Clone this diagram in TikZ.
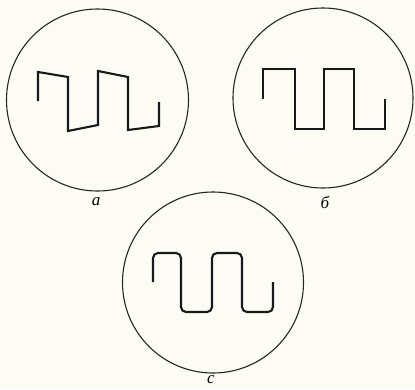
\documentclass[tikz,border=0pt]{standalone}
\usepackage{fontspec}
\newfontfamily\lblfont{Liberation Serif}
\begin{document}
\begin{tikzpicture}[x=1pt,y=-1pt,
  scope/.style={draw=black!85, line width=1.1pt},
  wave/.style={draw=black!90, line width=2.1pt, line join=miter},
  lbl/.style={font=\lblfont\itshape\fontsize{17}{17}\selectfont, inner sep=0pt}]
\fill[fill={rgb,255:red,252;green,252;blue,245}] (0,0) rectangle (415,389);
\useasboundingbox (0,0) rectangle (415,389);
% scopes
\node[scope, circle, minimum size=182pt, inner sep=0pt] (ca) at (97.5,100) {};
\node[scope, circle, minimum size=180pt, inner sep=0pt] (cb) at (323,98) {};
\node[scope, circle, minimum size=181pt, inner sep=0pt] (cc) at (213,282.5) {};
% waveform a (sloped tops)
\draw[wave] (38,101) -- (38,72) -- (68,77) -- (68,131) -- (98,125) -- (98,71)
  -- (128,77) -- (128,130) -- (159,126) -- (159,102);
% waveform b (ideal)
\draw[wave] (263,99) -- (263,69) -- (295,69) -- (295,129) -- (324,129) -- (324,69)
  -- (354,69) -- (354,129) -- (385,129) -- (385,99);
% waveform c (rounded)
\draw[wave, rounded corners=5pt] (153,282) -- (153,253) -- (181,253) -- (181,312)
  -- (212,312) -- (212,253) -- (242,253) -- (242,312) -- (273,312) -- (273,282);
% labels
\node[lbl] (la) at (96,202) {а};
\node[lbl] (lb) at (325,202) {б};
\node[lbl] (lc) at (211,380) {с};
\end{tikzpicture}
\end{document}
